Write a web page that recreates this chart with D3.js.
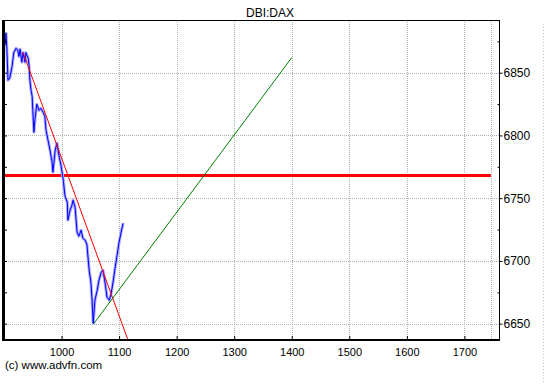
<!DOCTYPE html>
<html>
<head>
<meta charset="utf-8">
<script src="https://cdn.jsdelivr.net/npm/d3@7"></script>
<style>
  body { margin: 0; background: #fff; }
  text { font-family: "Liberation Sans Narrow", "Liberation Sans", Arial, sans-serif; }
</style>
</head>
<body>
<div id="chart"></div>
<script>
// price series (bar index, close)
var priceX = [902, 903.5, 905, 907, 910, 914, 917, 921, 924, 926, 928, 931, 933, 936.5, 938, 942, 943.5, 945, 947, 949, 950, 952, 954, 957, 961, 964, 968, 971, 973, 976.5, 980, 983.5, 985, 989, 992, 996, 999, 1003, 1006, 1010, 1011, 1015, 1018, 1020, 1023.5, 1027, 1030, 1034, 1037, 1041, 1044, 1048, 1051, 1053, 1055, 1058, 1062, 1065, 1069, 1072, 1076, 1079, 1083, 1086, 1090, 1093, 1096.5, 1100, 1103.5, 1107];
var priceY = [6872, 6881.5, 6868, 6844, 6845.6, 6855, 6866, 6869.5, 6868, 6863, 6868.7, 6858.4, 6866, 6858.4, 6866, 6861.6, 6856, 6844, 6836, 6831, 6820, 6802.6, 6813.7, 6824.9, 6820, 6821.7, 6818.5, 6815.3, 6804.2, 6796.2, 6788.3, 6778.7, 6770.7, 6788.3, 6793.8, 6782.7, 6776.3, 6764.4, 6751.6, 6746.8, 6732.5, 6740.5, 6744.4, 6748.4, 6742.8, 6722.9, 6719.7, 6724.5, 6718.1, 6716.5, 6713.3, 6692.6, 6683, 6668.7, 6650.3, 6668.7, 6676.7, 6684.7, 6691, 6692.6, 6681.5, 6671.1, 6668.7, 6673.5, 6684.7, 6694.2, 6704.5, 6714.9, 6722.9, 6730];

var xTicks = [1000, 1100, 1200, 1300, 1400, 1500, 1600, 1700];
var yTicks = [6650, 6700, 6750, 6800, 6850];
var yMinor = [6675, 6725, 6775, 6825, 6875];

var resistance = 6768;                        // horizontal red level
var downTrend = [[933, 6866.3], [1125, 6625]];  // red trend line
var upTrend = [[1056, 6650], [1400, 6862]];     // green trend line
var markerX = 1746;                           // extra vertical grid line

function chart(landmark) {
  var w = 545, h = 384;
  var left = 4, right = 499.5, top = 20, bottom = 340;

  var x = d3.scaleLinear().domain([900, 1761]).range([left, right]);
  var y = d3.scaleLinear().domain([6637, 6892]).range([bottom, top]);

  var svg = d3.select('#' + landmark)
              .append('svg')
              .attr('width', w)
              .attr('height', h)
              .style('display', 'block');

  svg.append('rect').attr('width', w).attr('height', h).attr('fill', '#fff');

  svg.append('clipPath').attr('id', 'plot')
     .append('rect')
     .attr('x', left).attr('y', top)
     .attr('width', right - left).attr('height', bottom - top);

  // grid
  var grid = svg.append('g')
                .attr('stroke', '#a8b4b4')
                .attr('stroke-dasharray', '1,1')
                .attr('stroke-width', 1);
  grid.selectAll('line.v')
      .data(xTicks.concat([markerX]))
      .enter().append('line')
      .attr('class', 'v')
      .attr('x1', function(d) { return Math.round(x(d)) + 0.5; })
      .attr('x2', function(d) { return Math.round(x(d)) + 0.5; })
      .attr('y1', top).attr('y2', bottom);
  grid.selectAll('line.h')
      .data(yTicks)
      .enter().append('line')
      .attr('class', 'h')
      .attr('y1', function(d) { return Math.round(y(d)) + 0.5; })
      .attr('y2', function(d) { return Math.round(y(d)) + 0.5; })
      .attr('x1', left).attr('x2', right);

  var plot = svg.append('g').attr('clip-path', 'url(#plot)');

  // horizontal level
  plot.append('line')
      .attr('x1', x(900)).attr('x2', x(markerX))
      .attr('y1', y(resistance)).attr('y2', y(resistance))
      .attr('stroke', '#ff0000').attr('stroke-width', 3);

  var pts = priceX.map(function(d, i) { return [d, priceY[i]]; });
  var line = d3.line()
               .x(function(d) { return x(d[0]); })
               .y(function(d) { return y(d[1]); });

  plot.append('path').datum(pts)
      .attr('d', line)
      .attr('fill', 'none')
      .attr('stroke', '#a8a8ff')
      .attr('stroke-width', 3)
      .attr('stroke-linejoin', 'round');
  plot.append('path').datum(pts)
      .attr('d', line)
      .attr('fill', 'none')
      .attr('stroke', '#0000ff')
      .attr('stroke-width', 1);

  plot.append('path').datum(downTrend)
      .attr('d', line)
      .attr('fill', 'none')
      .attr('stroke', '#ff0000')
      .attr('stroke-width', 1);
  plot.append('path').datum(upTrend)
      .attr('d', line)
      .attr('fill', 'none')
      .attr('stroke', '#008000')
      .attr('stroke-width', 1);

  // frame
  svg.append('line').attr('x1', 3.5).attr('x2', 3.5).attr('y1', top).attr('y2', bottom + 1)
     .attr('stroke', '#000').attr('stroke-width', 3);
  svg.append('line').attr('x1', left).attr('x2', right).attr('y1', top + 0.5).attr('y2', top + 0.5)
     .attr('stroke', '#000');
  svg.append('line').attr('x1', right).attr('x2', right).attr('y1', top).attr('y2', bottom)
     .attr('stroke', '#000');
  svg.append('line').attr('x1', left).attr('x2', right + 0.5).attr('y1', bottom).attr('y2', bottom)
     .attr('stroke', '#000').attr('stroke-width', 2);

  // bottom axis
  var xAxis = d3.axisBottom(x).tickValues(xTicks).tickFormat(d3.format('d'))
                .tickSizeInner(-4).tickSizeOuter(0).tickPadding(8);
  var gx = svg.append('g').attr('transform', 'translate(0,' + bottom + ')').call(xAxis);
  gx.select('.domain').remove();
  gx.selectAll('text').attr('font-size', 11).attr('fill', '#000')
    .style('font-family', '"Liberation Sans Narrow", Arial, sans-serif');

  // right axis
  var yAxis = d3.axisRight(y).tickValues(yTicks).tickFormat(d3.format('d')).tickSize(3).tickPadding(1);
  var gy = svg.append('g').attr('transform', 'translate(' + right + ',0)').call(yAxis);
  gy.select('.domain').remove();
  gy.selectAll('text').attr('font-size', 12).attr('fill', '#000')
    .style('font-family', '"Liberation Sans Narrow", Arial, sans-serif');
  svg.append('g').attr('transform', 'translate(' + right + ',0)')
     .call(d3.axisLeft(y).tickValues(yMinor).tickSize(2).tickFormat(''))
     .select('.domain').remove();

  // left axis small inner ticks
  svg.append('g').attr('transform', 'translate(5,0)')
     .call(d3.axisRight(y).tickValues(yTicks.concat(yMinor)).tickSize(2).tickFormat(''))
     .select('.domain').remove();

  // title and credit
  svg.append('text').attr('x', 270).attr('y', 17)
     .attr('text-anchor', 'middle').attr('font-size', 12)
     .text('DBI:DAX');
  svg.append('text').attr('x', 5).attr('y', 369)
     .attr('font-size', 11.5)
     .text('(c) www.advfn.com');

  // stray marker line at the right border
  svg.append('line').attr('x1', 543.5).attr('x2', 543.5).attr('y1', 24).attr('y2', 384)
     .attr('stroke', '#c8c8c8').attr('stroke-dasharray', '1,2');

  return svg;
}

chart('chart');
</script>
</body>
</html>
